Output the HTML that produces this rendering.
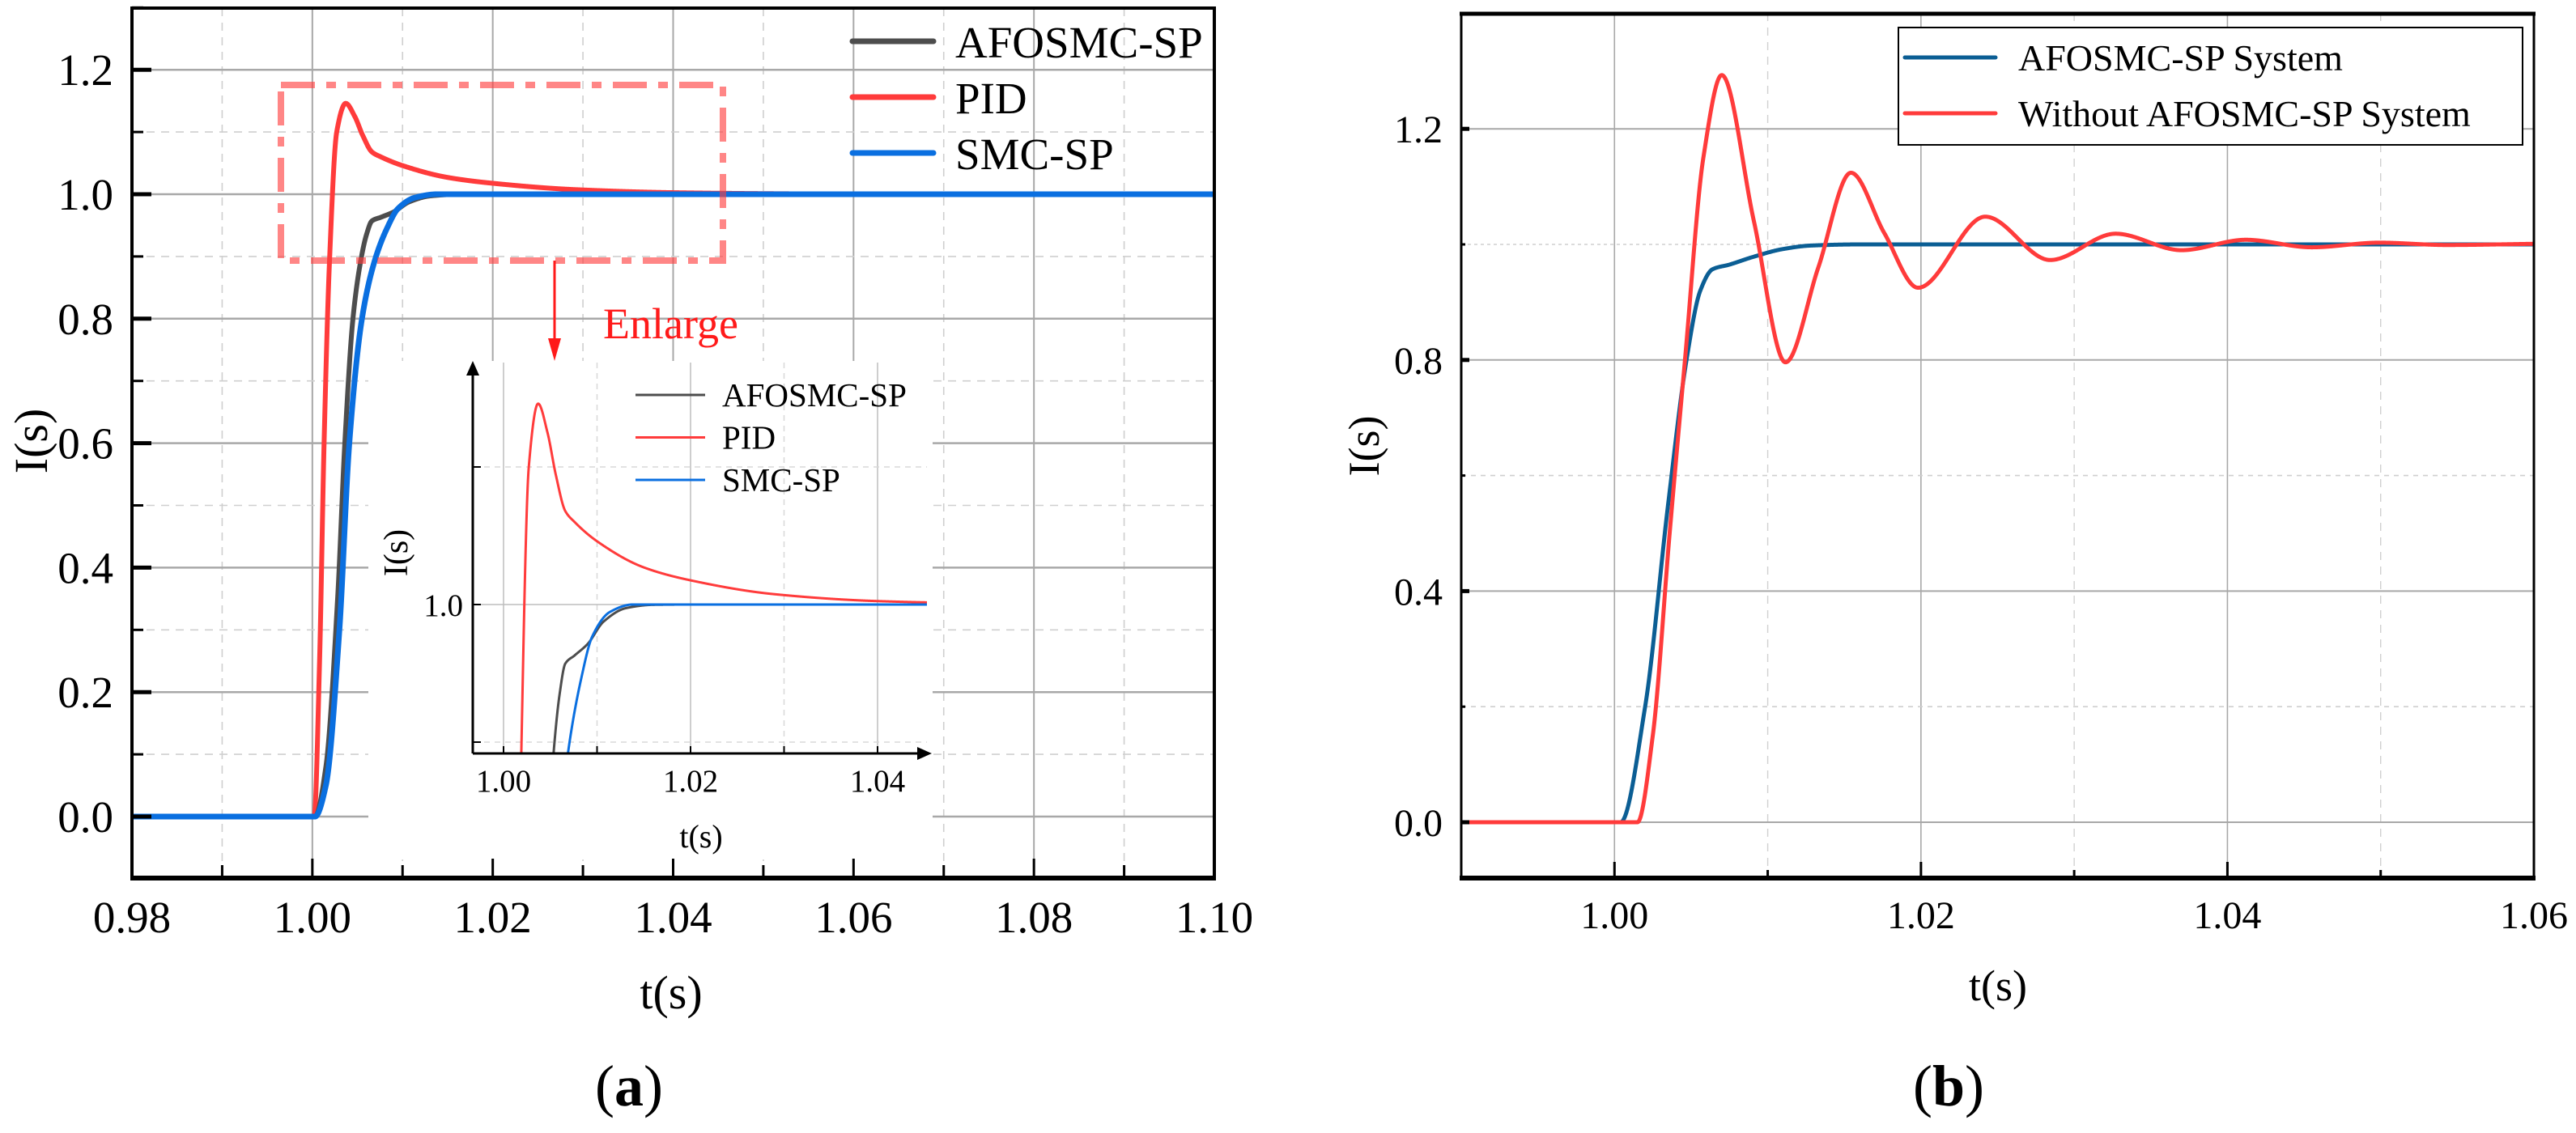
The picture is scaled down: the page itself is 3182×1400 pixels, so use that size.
<!DOCTYPE html>
<html><head><meta charset="utf-8"><style>
html,body{margin:0;padding:0;background:#fff;width:3182px;height:1400px;overflow:hidden;}
svg{display:block;overflow:hidden;}
svg text{font-family:"Liberation Serif","Times New Roman",serif !important;}
</style></head><body>
<svg id="fig" width="3182" height="1400" viewBox="0 0 3182 1400" xmlns="http://www.w3.org/2000/svg">
<defs>
<clipPath id="clipA"><rect x="163" y="10" width="1337" height="1075"/></clipPath>
<clipPath id="clipI"><rect x="585" y="446" width="560" height="484"/></clipPath>
<clipPath id="clipB"><rect x="1805" y="16" width="1325" height="1070"/></clipPath>
</defs>
<g id="gA"></g>
<g id="gB"></g>
</svg>
<script>
// ---- data chart (a) ----
const pidT=[0.98,1.0000,1.0002,1.0008,1.0013,1.0019,1.0027,1.0037,1.0047,1.0056,1.0066,1.0076,1.0100,1.0150,1.0200,1.0290,1.0400,1.0500,1.0600,1.1];
const pidV=[0,0,0,0.25,0.6,0.892,1.10,1.146,1.125,1.094,1.068,1.060,1.046,1.027,1.0176,1.0075,1.0025,1.001,1.0003,1.0];
const afoT=[0.98,1.0000,1.0003,1.0015,1.0028,1.0036,1.0045,1.00535,1.0060,1.0066,1.0076,1.0090,1.0107,1.0131,1.016,1.02,1.1];
const afoV=[0,0,0,0.08,0.35,0.6,0.8,0.892,0.935,0.957,0.963,0.9714,0.9876,0.9974,0.9998,1,1];
const smcT=[0.98,1.0000,1.0003,1.0015,1.0030,1.0041,1.0055,1.00689,1.0083,1.0095,1.0114,1.0138,1.017,1.1];
const smcV=[0,0,0,0.05,0.3,0.6,0.8,0.892,0.946,0.977,0.9947,1.0,1.0,1.0];
const aXTicks=["0.98","1.00","1.02","1.04","1.06","1.08","1.10"];
const aYTicks=["0.0","0.2","0.4","0.6","0.8","1.0","1.2"];
const insetXTicks=["1.00","1.02","1.04"];
// ---- data chart (b) ----
const bT=[0.99,1.0000,1.0004,1.0020,1.0035,1.0047,1.0056,1.0064,1.0075,1.0090,1.0110,1.0128,1.016,1.06];
const bV=[0,0,0,0.2,0.55,0.8,0.92,0.957,0.965,0.978,0.992,0.998,1.0,1.0];
const rT=[0.99,1.0015,1.0025,1.0036,1.0046,1.0058,1.0070,1.0091,1.01116,1.0133,1.01543,1.0176,1.01981,1.0242,1.02843,1.0327,1.037,1.0412,1.0455,1.0499,1.0543,1.06];
const rV=[0,0,0.15,0.5,0.8,1.15,1.293,1.04,0.796,0.96,1.124,1.02,0.925,1.048,0.973,1.0185,0.990,1.008,0.995,1.003,0.999,1.001];
const bXTicks=["1.00","1.02","1.04","1.06"];
const bYTicks=["0.0","0.4","0.8","1.2"];

const NS="http://www.w3.org/2000/svg";
function el(parent,tag,attrs,text){const e=document.createElementNS(NS,tag);for(const k in attrs)e.setAttribute(k,attrs[k]);
 if(tag==='text'){e.setAttribute('style','font-family:"Liberation Serif","Times New Roman",serif');}
 if(text!==undefined)e.textContent=text;parent.appendChild(e);return e;}
function mono(xs,ys){const n=xs.length,d=[],m=new Array(n);for(let i=0;i<n-1;i++)d.push((ys[i+1]-ys[i])/(xs[i+1]-xs[i]));m[0]=d[0];m[n-1]=d[n-2];
for(let i=1;i<n-1;i++){if(d[i-1]*d[i]<=0)m[i]=0;else{const w1=2*(xs[i+1]-xs[i])+(xs[i]-xs[i-1]),w2=(xs[i+1]-xs[i])+2*(xs[i]-xs[i-1]);m[i]=(w1+w2)/(w1/d[i-1]+w2/d[i]);}}
return function(x){let i=0;while(i<n-2&&x>xs[i+1])i++;const h=xs[i+1]-xs[i],t=(x-xs[i])/h,t2=t*t,t3=t2*t;
return (2*t3-3*t2+1)*ys[i]+(t3-2*t2+t)*h*m[i]+(-2*t3+3*t2)*ys[i+1]+(t3-t2)*h*m[i+1];};}
function pathFor(xs,ys,sx,sy,x0,x1){const f=mono(xs,ys);let p="";const N=3000;for(let k=0;k<=N;k++){const x=x0+(x1-x0)*k/N;p+=(k?"L":"M")+sx(x).toFixed(2)+","+sy(f(x)).toFixed(2);}return p;}

// ===== chart (a) =====
const gA=document.getElementById('gA');
const ax=v=>163+(v-0.98)/0.12*1337;
const ay=v=>1009-v*769;
for(let i=0;i<=12;i++){const v=0.98+i*0.01,x=ax(v);const major=i%2==0;
 const l=el(gA,'line',{x1:x,y1:10,x2:x,y2:1085,stroke:major?'#a8a8a8':'#cfcfcf','stroke-width':major?2:1.6,'stroke-dasharray':major?'none':'10 8'});
 }
for(let i=-1;i<=13;i++){const v=i*0.1,y=ay(v);const major=i%2==0;
 const l=el(gA,'line',{x1:163,y1:y,x2:1500,y2:y,stroke:major?'#a8a8a8':'#cfcfcf','stroke-width':major?2.5:1.6,'stroke-dasharray':major?'none':'10 8'});
 }
const cA=el(gA,'g',{'clip-path':'url(#clipA)'});
const s1=el(cA,'path',{d:pathFor(pidT,pidV,ax,ay,0.98,1.1),fill:'none',stroke:'#ff3b3b','stroke-width':6});

const s2=el(cA,'path',{d:pathFor(afoT,afoV,ax,ay,0.98,1.1),fill:'none',stroke:'#4d4d4d','stroke-width':6});

const s3=el(cA,'path',{d:pathFor(smcT,smcV,ax,ay,0.98,1.1),fill:'none',stroke:'#0a6fe0','stroke-width':7});

const eb=el(gA,'rect',{x:347,y:105,width:546,height:217,fill:'none',stroke:'rgba(255,60,60,0.62)','stroke-width':8,'stroke-dasharray':'42 14 12 14'});

const ib=el(gA,'rect',{x:455,y:446,width:697,height:616,fill:'#fff'});

const fr=el(gA,'rect',{x:163,y:10,width:1337,height:1075,fill:'none',stroke:'#000','stroke-width':4});

el(gA,'line',{x1:161,y1:1085,x2:1502,y2:1085,stroke:'#000','stroke-width':6});
for(let i=0;i<=12;i++){const x=ax(0.98+i*0.01);const len=i%2==0?24:16;el(gA,'line',{x1:x,y1:1085,x2:x,y2:1085-len,stroke:'#000','stroke-width':3});}
for(let i=-1;i<=13;i++){const y=ay(i*0.1);const len=i%2==0?24:14;el(gA,'line',{x1:163,y1:y,x2:163+len,y2:y,stroke:'#000','stroke-width':i%2==0?5:3});}
aXTicks.forEach((t,i)=>{const e=el(gA,'text',{x:ax(0.98+i*0.02),y:1152,'font-size':55,'text-anchor':'middle'},t);
 });
aYTicks.forEach((t,i)=>{const e=el(gA,'text',{x:140,y:ay(i*0.2)+19,'font-size':55,'text-anchor':'end'},t);
 });
let tt=el(gA,'text',{x:829,y:1246,'font-size':58,'text-anchor':'middle'},'t(s)');

tt=el(gA,'text',{x:0,y:0,'font-size':58,'text-anchor':'middle',transform:'translate(58,545) rotate(-90)'},'I(s)');

tt=el(gA,'text',{x:777,y:1366,'font-size':72,'text-anchor':'middle'});
tt.innerHTML='(<tspan font-weight="bold">a</tspan>)';

const legA=[["AFOSMC-SP","#4d4d4d"],["PID","#ff3b3b"],["SMC-SP","#0a6fe0"]];
legA.forEach((l,i)=>{const y=51+i*69;const g=el(gA,'g',{});
 
 el(g,'line',{x1:1053,y1:y,x2:1153,y2:y,stroke:l[1],'stroke-width':7,'stroke-linecap':'round'});
 el(g,'text',{x:1180,y:y+20,'font-size':55},l[0]);});
el(gA,'line',{x1:685,y1:322,x2:685,y2:420,stroke:'#ff1a1a','stroke-width':3});
const ah=el(gA,'polygon',{points:'677,418 693,418 685,446',fill:'#ff1a1a'});

tt=el(gA,'text',{x:745,y:418,'font-size':54,fill:'#ff1a1a'},'Enlarge');

// inset
const ix=v=>622+(v-1.0)*11550;
const iy=v=>747-(v-1.0)*1700;
for(let i=0;i<=4;i++){const x=ix(1+i*0.01);const major=i%2==0;
 el(gA,'line',{x1:x,y1:448,x2:x,y2:931,stroke:major?'#bdbdbd':'#d8d8d8','stroke-width':1.5,'stroke-dasharray':major?'none':'7 6'});}
[0.9,1.0,1.1].forEach((v,i)=>{el(gA,'line',{x1:585,y1:iy(v),x2:1145,y2:iy(v),stroke:i==1?'#bdbdbd':'#d8d8d8','stroke-width':1.5,'stroke-dasharray':i==1?'none':'7 6'});});
const cI=el(gA,'g',{'clip-path':'url(#clipI)'});
const i1=el(cI,'path',{d:pathFor(pidT,pidV,ix,iy,0.995,1.047),fill:'none',stroke:'#ff3b3b','stroke-width':3});

const i2=el(cI,'path',{d:pathFor(afoT,afoV,ix,iy,0.995,1.047),fill:'none',stroke:'#4d4d4d','stroke-width':3});

const i3=el(cI,'path',{d:pathFor(smcT,smcV,ix,iy,0.995,1.047),fill:'none',stroke:'#0a6fe0','stroke-width':3});

el(gA,'line',{x1:584,y1:931,x2:584,y2:462,stroke:'#000','stroke-width':3});
el(gA,'polygon',{points:'576,464 592,464 584,446',fill:'#000'});
el(gA,'line',{x1:584,y1:931,x2:1135,y2:931,stroke:'#000','stroke-width':3});
el(gA,'polygon',{points:'1133,923 1133,939 1151,931',fill:'#000'});
for(let i=0;i<=4;i++){const x=ix(1+i*0.01);el(gA,'line',{x1:x,y1:931,x2:x,y2:922,stroke:'#000','stroke-width':2});}
[0.9,1.0,1.1].forEach(v=>{el(gA,'line',{x1:584,y1:iy(v),x2:594,y2:iy(v),stroke:'#000','stroke-width':2});});
insetXTicks.forEach((t,i)=>{const e=el(gA,'text',{x:ix(1+i*0.02),y:978,'font-size':39,'text-anchor':'middle'},t);
 });
tt=el(gA,'text',{x:572,y:761,'font-size':39,'text-anchor':'end'},'1.0');

tt=el(gA,'text',{x:866,y:1047,'font-size':40,'text-anchor':'middle'},'t(s)');

tt=el(gA,'text',{x:0,y:0,'font-size':42,'text-anchor':'middle',transform:'translate(503,683) rotate(-90)'},'I(s)');

legA.forEach((l,i)=>{const y=488+i*52.5;const g=el(gA,'g',{});
 
 el(g,'line',{x1:785,y1:y,x2:871,y2:y,stroke:l[1],'stroke-width':3});
 el(g,'text',{x:892,y:y+14,'font-size':41},l[0]);});

// ===== chart (b) =====
const gB=document.getElementById('gB');
const bx=v=>1805+(v-0.99)/0.07*1325;
const by=v=>1016-v*714;
for(let i=1;i<=7;i++){const v=0.99+i*0.01,x=bx(v);const major=i%2==1;
 const l=el(gB,'line',{x1:x,y1:16,x2:x,y2:1086,stroke:major?'#a8a8a8':'#d0d0d0','stroke-width':major?1.6:1.4,'stroke-dasharray':major?'none':'10 8'});
 }
for(let i=0;i<=6;i++){const v=i*0.2,y=by(v);const major=i%2==0;
 const l=el(gB,'line',{x1:1805,y1:y,x2:3130,y2:y,stroke:major?'#a8a8a8':'#cfcfcf','stroke-width':major?2:1.6,'stroke-dasharray':major?'none':(i==5?'4 4':'6 6')});
 }
const cB=el(gB,'g',{'clip-path':'url(#clipB)'});
const b1=el(cB,'path',{d:pathFor(bT,bV,bx,by,0.99,1.06),fill:'none',stroke:'#0b5e94','stroke-width':5});

const b2=el(cB,'path',{d:pathFor(rT,rV,bx,by,0.99,1.06),fill:'none',stroke:'#ff3b3b','stroke-width':5});

const fb=el(gB,'rect',{x:1805,y:17,width:1325,height:1068,fill:'none',stroke:'#000','stroke-width':3});

el(gB,'line',{x1:1803,y1:17,x2:3132,y2:17,stroke:'#000','stroke-width':5});
el(gB,'line',{x1:1803,y1:1085,x2:3132,y2:1085,stroke:'#000','stroke-width':6});
for(let i=1;i<=6;i++){const x=bx(0.99+i*0.01);const len=i%2==1?20:10;el(gB,'line',{x1:x,y1:1085,x2:x,y2:1085-len,stroke:'#000','stroke-width':3});}
for(let i=0;i<=6;i++){const y=by(i*0.2);const len=i%2==0?10:5;el(gB,'line',{x1:1805,y1:y,x2:1805+len,y2:y,stroke:'#000','stroke-width':i%2==0?5:3});}
bXTicks.forEach((t,i)=>{const e=el(gB,'text',{x:bx(1.0+i*0.02),y:1147,'font-size':48,'text-anchor':'middle'},t);
 });
bYTicks.forEach((t,i)=>{const e=el(gB,'text',{x:1782,y:by(i*0.4)+17,'font-size':48,'text-anchor':'end'},t);
 });
tt=el(gB,'text',{x:2468,y:1236,'font-size':54,'text-anchor':'middle'},'t(s)');

tt=el(gB,'text',{x:0,y:0,'font-size':54,'text-anchor':'middle',transform:'translate(1703,551) rotate(-90)'},'I(s)');

tt=el(gB,'text',{x:2407,y:1366,'font-size':72,'text-anchor':'middle'});
tt.innerHTML='(<tspan font-weight="bold">b</tspan>)';

const lb=el(gB,'rect',{x:2345,y:34,width:771,height:145,fill:'#fff',stroke:'#000','stroke-width':2});

[["AFOSMC-SP System","#0b5e94"],["Without AFOSMC-SP System","#ff3b3b"]].forEach((l,i)=>{const y=71+i*69;const g=el(gB,'g',{});
 
 el(g,'line',{x1:2353,y1:y,x2:2465,y2:y,stroke:l[1],'stroke-width':5,'stroke-linecap':'round'});
 el(g,'text',{x:2493,y:y+16,'font-size':46},l[0]);});
</script>
</body></html>
